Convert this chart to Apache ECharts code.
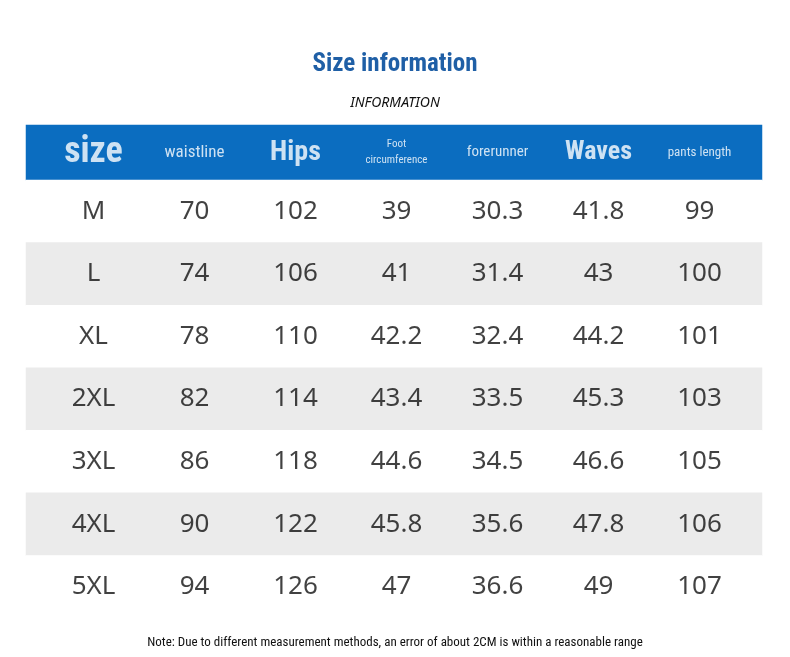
<!DOCTYPE html><html><head><meta charset="utf-8"><script src="https://cdn.jsdelivr.net/npm/echarts@6/dist/echarts.min.js"></script>
<style>html,body{margin:0;background:#fff}#c{width:790px;height:657px}</style></head><body><div id="c"></div><script>
const headers=['size','waistline','Hips','Foot\ncircumference','forerunner','Waves','pants length'];
const headerSizes=[36,17,28,11,15,26,13];
const sizes=['M','L','XL','2XL','3XL','4XL','5XL'];
const waistline=[70,74,78,82,86,90,94];
const hips=[102,106,110,114,118,122,126];
const foot=[39,41,42.2,43.4,44.6,45.8,47];
const forerunner=[30.3,31.4,32.4,33.5,34.5,35.6,36.6];
const waves=[41.8,43,44.2,45.3,46.6,47.8,49];
const pants=[99,100,101,103,105,106,107];
const cols=[sizes,waistline,hips,foot,forerunner,waves,pants];
const colIdx=headers.map((_,i)=>String(i));
const rowIdx=sizes.map((_,i)=>String(i));
const cond="'Liberation Sans Narrow','Roboto Condensed','Arial Narrow',sans-serif";
const hid={show:false};
function ax(data,g,inv){return {type:'category',data,gridIndex:g,show:false,inverse:!!inv,axisLine:hid,axisTick:hid,axisLabel:hid,splitLine:hid};}
const bodyBg=sizes.map((_,r)=>({value:[0,r,0],itemStyle:{color:r%2?'#ebebeb':'#ffffff'}}));
const hdrText=headers.map((h,i)=>({value:[i,0],label:{formatter:h,fontSize:headerSizes[i],fontWeight:(i==0||i==2||i==5)?'bold':'normal'}}));
const bodyText=[];cols.forEach((c,i)=>c.forEach((v,r)=>bodyText.push({value:[i,r],label:{formatter:String(v)}})));
const chart=echarts.init(document.getElementById('c'));
chart.setOption({animation:false,
title:[{text:'Size information',left:'center',top:47,textStyle:{color:'#1f5fa6',fontSize:25,fontWeight:'bold',fontFamily:cond}},
{text:'INFORMATION',left:'center',top:91,textStyle:{color:'#111',fontSize:14,fontStyle:'italic',fontWeight:'normal',fontFamily:"'Noto Sans',sans-serif"}},
{text:'Note: Due to different measurement methods, an error of about 2CM is within a reasonable range',left:'center',top:631,textStyle:{color:'#111',fontSize:13,fontWeight:'normal',fontFamily:cond}}],
grid:[{left:26,width:736,top:125,height:55},{left:26,width:736,top:180,height:438},{left:43,width:707,top:125,height:55},{left:43,width:707,top:180,height:438}],
xAxis:[ax(['a'],0),ax(['a'],1),ax(colIdx,2),ax(colIdx,3)],
yAxis:[ax(['a'],0),ax(rowIdx,1,true),ax(['a'],2),ax(rowIdx,3,true)],
series:[
{type:'heatmap',xAxisIndex:0,yAxisIndex:0,data:[{value:[0,0,0],itemStyle:{color:'#0b6dc0'}}],itemStyle:{borderWidth:0}},
{type:'heatmap',xAxisIndex:1,yAxisIndex:1,data:bodyBg,itemStyle:{borderWidth:0}},
{type:'scatter',xAxisIndex:2,yAxisIndex:2,symbolSize:0,data:hdrText,label:{show:true,position:'inside',color:'#ffffff',textBorderWidth:0,fontFamily:cond,lineHeight:16}},
{type:'scatter',xAxisIndex:3,yAxisIndex:3,symbolSize:0,data:bodyText,label:{show:true,position:'inside',color:'#111111',textBorderWidth:0,fontSize:26,fontFamily:"'Noto Sans',sans-serif"}}
]});
</script></body></html>
